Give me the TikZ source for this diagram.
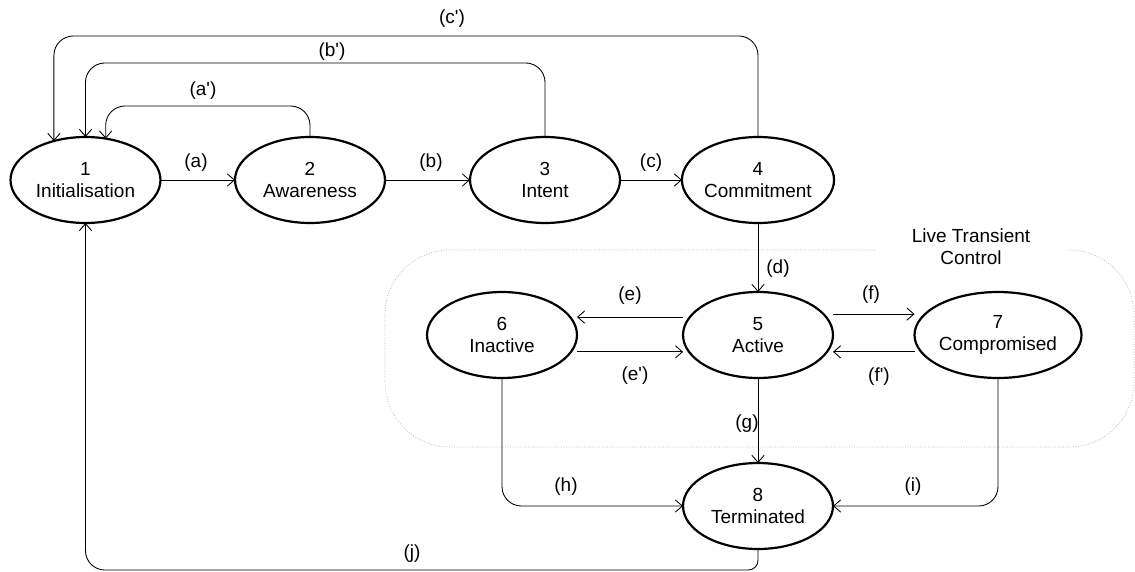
\documentclass[tikz,border=0pt]{standalone}
\usepackage{fontspec}
\setmainfont{Liberation Sans}
\usetikzlibrary{arrows.meta, shapes.geometric}

\begin{document}
\begin{tikzpicture}[x=0.02cm, y=-0.02cm,
  state/.style={shape=ellipse, draw, line width=1.25pt, minimum width=3cm, minimum height=1.72cm, inner sep=0pt, outer sep=0pt, align=center, font=\fontsize{10.8}{12.8}\selectfont},
  lbl/.style={inner sep=1pt, align=center, font=\fontsize{10.8}{12.3}\selectfont},
  conn/.style={line width=0.5pt, -{Straight Barb[length=4pt, width=7pt]}, rounded corners=11pt}]
	\useasboundingbox (0,0) rectangle (1135,571);
	% Transient region and states:
	\draw[densely dotted, gray!55, line width=0.45pt, rounded corners=37pt] (385,250) rectangle (1134,447);
	\node[lbl, fill=white, minimum width=3.84cm] (LT) at (971,247) {Live Transient\\Control};
	\node[state](N1) at (85.5,180){1\\Initialisation};
	\node[state](N2) at (310,180){2\\Awareness};
	\node[state](N3) at (545,180){3\\Intent};
	\node[state](N4) at (758,180){4\\Commitment};
	\node[state](N5) at (758,335){5\\Active};
	\node[state](N6) at (502,335){6\\Inactive};
	\node[state, minimum width=3.2cm](N7) at (998,335){7\\Compromised};
	\node[state](N8) at (758,506){8\\Terminated};
	% Transitions:
	\draw[conn] (N1) -- (N2);
	\draw[conn] (N2) -- (N3);
	\draw[conn] (N3) -- (N4);
	\draw[conn] (N4) -- (N5);
	\draw[conn] ([yshift=10.2pt]N5.west) -- ([yshift=10.2pt]N6.east);
	\draw[conn] ([yshift=-9.6pt]N6.east) -- ([yshift=-9.6pt]N5.west);
	\draw[conn] ([yshift=11.9pt]N5.east) -- ([yshift=11.9pt]N7.west);
	\draw[conn] ([yshift=-9.6pt]N7.west) -- ([yshift=-9.6pt]N5.east);
	\draw[conn] (N5) -- (N8);
	\draw[conn] (N6.south) |- (N8.west);
	\draw[conn] (N7.south) |- (N8.east);
	\draw[conn] (N2.north) -- (N2.north |- 0,106) -- (N1.64 |- 0,106) -- (N1.64);
	\draw[conn] (N3.north) -- (N3.north |- 0,63) -- (N1.north |- 0,63) -- (N1.north);
	\draw[conn] (N4.north) -- (N4.north |- 0,36) -- (N1.129 |- 0,36) -- (N1.129);
	\draw[conn] (N8.south) [rounded corners=5.5pt] -- (N8.south |- 0,570) [rounded corners=11pt] -- (N1.south |- 0,570) -- (N1.south);
	% Labels:
	\node[lbl](La) at (196,163){(a)};
	\node[lbl](Lb) at (431,163){(b)};
	\node[lbl](Lc) at (651,163){(c)};
	\node[lbl](La2) at (203,91){(a\textquotesingle)};
	\node[lbl](Lb2) at (332,52){(b\textquotesingle)};
	\node[lbl](Lc2) at (452,19){(c\textquotesingle)};
	\node[lbl](Ld) at (778,269){(d)};
	\node[lbl](Le) at (630,296){(e)};
	\node[lbl](Le2) at (635,376){(e\textquotesingle)};
	\node[lbl](Lf) at (871,295){(f)};
	\node[lbl](Lf2) at (879,377){(f\textquotesingle)};
	\node[lbl](Lg) at (747,424){(g)};
	\node[lbl](Lh) at (566,487){(h)};
	\node[lbl](Li) at (913,487){(i)};
	\node[lbl](Lj) at (412,554){(j)};
\end{tikzpicture}
\end{document}
